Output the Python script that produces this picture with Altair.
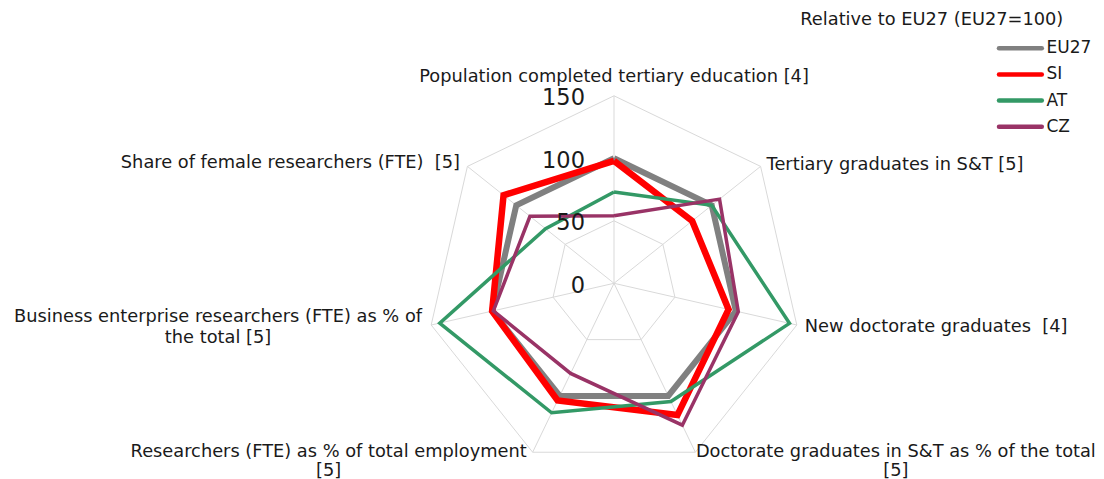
import altair as alt
import pandas as pd

# ---------------- data ----------------
axis_labels = [
    "Population completed tertiary education [4]",
    "Tertiary graduates in S&T [5]",
    "New doctorate graduates  [4]",
    "Doctorate graduates in S&T as % of the total\n[5]",
    "Researchers (FTE) as % of total employment\n[5]",
    "Business enterprise researchers (FTE) as % of\nthe total [5]",
    "Share of female researchers (FTE)  [5]",
]
series_names = ["EU27", "SI", "AT", "CZ"]
eu27_values = [100, 100, 100, 100, 100, 100, 100]
si_values = [98, 80, 94, 117, 104, 100, 113]
at_values = [73, 100, 144, 105, 115, 143, 70]
cz_values = [54, 108, 102, 126, 80, 99, 86]
tick_values = [0, 50, 100, 150]
tick_labels = ["0", "50", "100", "150"]
legend_title = "Relative to EU27 (EU27=100)"

# ---------------- styles ----------------
FONT = "DejaVu Sans"
TEXT = "#1a1a1a"
GRID = "#d9d9d9"
colors = ["#808080", "#FF0000", "#339966", "#993366"]
line_widths = [6, 6.5, 3.5, 3.5]
legend_widths = [4.5, 4.5, 3.5, 3.5]

W, H = 1088, 471
CX, CY, PXU = 606.0, 275.3, 1.25   # plot-space centre and pixels per unit
X_DOM = [-CX / PXU, (W - CX) / PXU]
Y_DOM = [-(H - CY) / PXU, CY / PXU]
xs = alt.Scale(domain=X_DOM, nice=False, zero=False)
ys = alt.Scale(domain=Y_DOM, nice=False, zero=False)

N = len(axis_labels)
RMAX = tick_values[-1]
ANG = f"(datum.idx*2*PI/{N})"

color_enc = alt.Color("series:N", scale=alt.Scale(domain=series_names, range=colors), legend=None)

# ---------------- tables ----------------
rows = []
for name, vals in zip(series_names, [eu27_values, si_values, at_values, cz_values]):
    for i in range(N + 1):
        rows.append({"series": name, "idx": i, "value": vals[i % N]})
series_df = pd.DataFrame(rows)

ring_df = pd.DataFrame(
    [{"level": lv, "idx": i} for lv in tick_values if lv > 0 for i in range(N + 1)]
)
spoke_df = pd.DataFrame({"idx": list(range(N))})
tick_df = pd.DataFrame({"value": tick_values, "label": tick_labels})
# keep double spaces visible in SVG (whitespace would otherwise collapse)
label_df = pd.DataFrame({"idx": list(range(N)),
                         "text": [t.replace("  ", " \u00a0") for t in axis_labels]})
legend_df = pd.DataFrame({"series": series_names})
title_df = pd.DataFrame({"t": [legend_title]})

# ---------------- grid ----------------
rings = alt.Chart(ring_df).mark_line(color=GRID, strokeWidth=1).transform_calculate(
    px=f"datum.level*sin({ANG})", py=f"datum.level*cos({ANG})"
).encode(
    x=alt.X("px:Q", scale=xs, axis=None),
    y=alt.Y("py:Q", scale=ys, axis=None),
    detail="level:N",
    order="idx:Q",
)

spokes = alt.Chart(spoke_df).mark_rule(color=GRID, strokeWidth=1).transform_calculate(
    x0="0", y0="0",
    x1=f"{RMAX}*sin({ANG})", y1=f"{RMAX}*cos({ANG})",
).encode(
    x=alt.X("x0:Q", scale=xs, axis=None),
    y=alt.Y("y0:Q", scale=ys, axis=None),
    x2="x1:Q",
    y2="y1:Q",
)

# ---------------- series ----------------
series_layers = []
for name, w in zip(series_names, line_widths):
    series_layers.append(
        alt.Chart(series_df).transform_filter(f"datum.series == '{name}'")
        .transform_calculate(
            px=f"datum.value*sin({ANG})", py=f"datum.value*cos({ANG})"
        ).mark_line(strokeWidth=w, strokeJoin="miter").encode(
            x=alt.X("px:Q", scale=xs, axis=None),
            y=alt.Y("py:Q", scale=ys, axis=None),
            order="idx:Q",
            color=color_enc,
        )
    )

# ---------------- tick labels ----------------
ticks = alt.Chart(tick_df).transform_calculate(px="0").mark_text(
    align="right", baseline="middle", dx=-29, dy=2.5, fontSize=22.5, font=FONT, color=TEXT
).encode(
    x=alt.X("px:Q", scale=xs, axis=None),
    y=alt.Y("value:Q", scale=ys, axis=None),
    text="label:N",
)

# ---------------- axis labels ----------------
label_style = [
    ("center", 0, -19, 20.8),
    ("left", 6, -1.5, 20.8),
    ("left", 8, 2.3, 20.8),
    ("center", 200.5, -0.5, 19),
    ("center", -204, -0.5, 19),
    ("center", -213.2, -7.8, 20.8),
    ("right", -7.4, -3, 20.8),
]
label_layers = []
for k, (al, dx, dy, lh) in enumerate(label_style):
    label_layers.append(
        alt.Chart(label_df).transform_filter(f"datum.idx == {k}")
        .transform_calculate(px=f"{RMAX}*sin({ANG})", py=f"{RMAX}*cos({ANG})")
        .mark_text(align=al, baseline="middle", dx=dx, dy=dy, fontSize=17.8,
                   font=FONT, color=TEXT, lineBreak="\n", lineHeight=lh)
        .encode(
            x=alt.X("px:Q", scale=xs, axis=None),
            y=alt.Y("py:Q", scale=ys, axis=None),
            text="text:N",
        )
    )

radar = alt.layer(rings, spokes, *series_layers, ticks, *label_layers)

# ---------------- legend ----------------
leg_y = alt.Y("series:N", scale=alt.Scale(type="point", domain=series_names,
                                          range=[40.3, 118.7], padding=0), axis=None)
leg_lines = alt.Chart(legend_df).mark_rule(strokeCap="round").encode(
    x=alt.value(991.0), x2=alt.value(1033.8),
    y=leg_y,
    color=color_enc,
    strokeWidth=alt.StrokeWidth("series:N", scale=alt.Scale(domain=series_names, range=legend_widths), legend=None),
)
leg_text = alt.Chart(legend_df).mark_text(
    align="left", baseline="middle", fontSize=17, font=FONT, color=TEXT
).encode(x=alt.value(1038.5), y=leg_y, text="series:N")
leg_title = alt.Chart(title_df).mark_text(
    align="right", baseline="middle", fontSize=17.8, font=FONT, color=TEXT
).encode(x=alt.value(1055.3), y=alt.value(12), text="t:N")

legend = alt.layer(leg_lines, leg_text, leg_title)

chart = alt.layer(radar, legend).resolve_scale(
    x="independent", y="independent", strokeWidth="independent"
).properties(
    width=W, height=H, padding=0, autosize=alt.AutoSizeParams(type="none")
).configure_view(strokeWidth=0)

chart.save("out.html", embed_options={"renderer": "svg", "actions": False})
